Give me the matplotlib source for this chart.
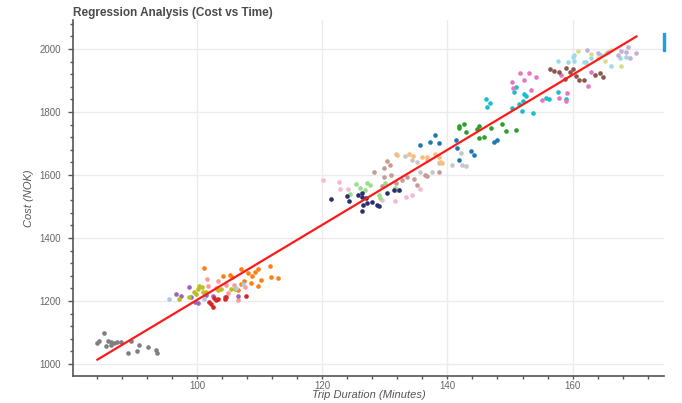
import numpy as np
import matplotlib.pyplot as plt
from matplotlib.patches import Rectangle
from matplotlib.ticker import MultipleLocator

plt.rcParams['font.family'] = ['Liberation Sans', 'DejaVu Sans']

# Trip duration (minutes) and cost (NOK) per group
gray_x = [85.1, 84.4, 84.1, 85.8, 86.2, 86.7, 87.2, 87.9, 89.4, 85.4, 86.2, 89.0, 90.5, 90.8, 92.1, 93.5, 93.6]
gray_y = [1097, 1073, 1066, 1074, 1071, 1066, 1070, 1071, 1073, 1057, 1060, 1034, 1042, 1059, 1053, 1044, 1036]

orange_x = [101.2, 107.0, 111.7, 104.2, 105.2, 105.6, 108.2, 109.3, 109.7, 108.8, 107.5, 108.7, 110.2, 111.9, 113.0, 109.8, 107.1, 106.5]
orange_y = [1304, 1301, 1311, 1279, 1283, 1277, 1288, 1293, 1301, 1279, 1265, 1258, 1267, 1275, 1272, 1248, 1254, 1235]

red_x = [102.0, 102.6, 102.3, 103.1, 103.4, 104.4, 104.7, 107.9, 102.8]
red_y = [1198, 1182, 1192, 1203, 1206, 1205, 1214, 1215, 1210]

salmon_x = [101.6, 103.3, 101.8, 104.7, 105.9, 107.6, 106.6, 105.0, 103.0]
salmon_y = [1270, 1265, 1249, 1251, 1251, 1243, 1202, 1226, 1240]

purple_x = [98.8, 96.7, 97.5, 99.1, 100.2, 101.5, 104.4, 106.6, 99.7, 102.5]
purple_y = [1245, 1223, 1215, 1212, 1195, 1219, 1214, 1216, 1197, 1216]

olive_x = [99.6, 100.8, 101.0, 97.2, 98.8, 103.9, 106.0, 100.2, 99.9, 101.5, 103.4, 105.5, 100.4]
olive_y = [1230, 1243, 1230, 1205, 1212, 1237, 1237, 1238, 1222, 1228, 1235, 1238, 1247]

lightblue_x = [95.5, 107.4, 101.2, 106.2]
lightblue_y = [1205, 1254, 1205, 1240]

navy_x = [121.4, 124.0, 124.3, 125.8, 126.4, 126.3, 127.0, 127.2, 128.0, 128.8, 126.3, 130.4, 131.4, 132.2, 126.6, 129.0]
navy_y = [1523, 1533, 1519, 1537, 1544, 1529, 1526, 1512, 1515, 1505, 1487, 1544, 1551, 1551, 1505, 1503]

lightpink_x = [120.2, 122.7, 122.9, 124.1, 129.6, 131.6, 133.4, 134.3, 131.8, 135.6]
lightpink_y = [1584, 1579, 1555, 1555, 1521, 1518, 1529, 1537, 1552, 1555]

lightgreen_x = [125.4, 127.2, 127.7, 126.1, 126.8, 129.0, 129.3, 130.1, 131.7, 132.2, 124.5]
lightgreen_y = [1572, 1576, 1567, 1558, 1552, 1537, 1526, 1576, 1558, 1552, 1540]

tan_x = [128.2, 129.8, 130.4, 130.9, 129.9, 131.0, 133.6, 132.8, 134.7, 135.2, 136.5, 136.8, 138.7, 129.6, 131.8]
tan_y = [1611, 1621, 1643, 1632, 1595, 1600, 1595, 1584, 1586, 1568, 1600, 1597, 1611, 1565, 1574]

silver_x = [131.8, 133.3, 134.4, 135.2, 135.7, 137.5, 140.8, 142.1, 142.4, 143.0, 138.7]
silver_y = [1667, 1660, 1648, 1642, 1608, 1611, 1632, 1669, 1632, 1627, 1637]

peach_x = [133.9, 134.5, 136.0, 136.8, 138.1, 138.7, 138.9, 139.2, 132.0, 136.8]
peach_y = [1667, 1659, 1656, 1658, 1667, 1656, 1642, 1637, 1664, 1648]

blue_x = [135.7, 137.3, 138.0, 138.7, 141.3, 141.6, 141.9, 143.7, 144.3, 147.5, 148.0]
blue_y = [1695, 1706, 1727, 1703, 1711, 1685, 1648, 1675, 1664, 1706, 1711]

green_x = [141.9, 142.6, 142.9, 141.9, 145.0, 144.8, 147.0, 148.8, 149.3, 150.9, 145.1, 145.9]
green_y = [1756, 1762, 1738, 1749, 1756, 1745, 1748, 1762, 1741, 1743, 1716, 1722]

cyan_x = [146.2, 146.8, 146.4, 150.7, 150.9, 152.3, 152.6, 151.4, 152.1, 150.3, 151.9, 153.6, 155.8, 156.3, 157.6, 158.9]
cyan_y = [1840, 1830, 1815, 1865, 1878, 1857, 1851, 1826, 1836, 1812, 1804, 1798, 1844, 1840, 1862, 1840]

pink_x = [151.6, 153.0, 154.2, 152.3, 150.3, 150.5, 153.3, 155.1, 157.9, 158.9, 159.1, 162.5, 163.0, 158.2]
pink_y = [1925, 1925, 1911, 1900, 1894, 1877, 1870, 1837, 1843, 1836, 1860, 1881, 1926, 1917]

brown_x = [156.4, 157.0, 157.8, 158.9, 159.6, 160.1, 158.8, 160.6, 161.1, 161.9, 163.5, 164.4, 164.9]
brown_y = [1935, 1931, 1928, 1939, 1927, 1935, 1904, 1913, 1902, 1901, 1917, 1923, 1910]

lightcyan_x = [157.7, 160.1, 160.3, 161.9, 163.0, 164.6, 166.2, 167.5, 168.6, 160.3, 159.3, 162.1]
lightcyan_y = [1961, 1974, 1963, 1958, 1971, 1981, 1946, 1971, 1974, 1981, 1958, 1958]

lavender_x = [162.3, 164.0, 165.7, 167.8, 168.8, 170.2, 167.3, 168.5, 169.1]
lavender_y = [1998, 1987, 1990, 1995, 2006, 1986, 1981, 1992, 1971]

khaki_x = [160.8, 163.0, 164.1, 165.1, 165.4, 166.2, 167.8]
khaki_y = [1995, 1983, 1970, 1962, 1986, 1998, 1947]

groups = [
    (gray_x, gray_y, '#7f7f7f'),
    (orange_x, orange_y, '#ff7f0e'),
    (salmon_x, salmon_y, '#ff9896'),
    (purple_x, purple_y, '#9467bd'),
    (olive_x, olive_y, '#bcbd22'),
    (red_x, red_y, '#d62728'),
    (lightblue_x, lightblue_y, '#aec7e8'),
    (lightpink_x, lightpink_y, '#f7b6d2'),
    (lightgreen_x, lightgreen_y, '#98df8a'),
    (tan_x, tan_y, '#c49c94'),
    (navy_x, navy_y, '#2a2f6e'),
    (silver_x, silver_y, '#c7c7c7'),
    (peach_x, peach_y, '#ffbb78'),
    (blue_x, blue_y, '#1f77b4'),
    (green_x, green_y, '#2ca02c'),
    (cyan_x, cyan_y, '#17becf'),
    (pink_x, pink_y, '#e377c2'),
    (brown_x, brown_y, '#8c564b'),
    (lightcyan_x, lightcyan_y, '#9edae5'),
    (khaki_x, khaki_y, '#dbdb8d'),
    (lavender_x, lavender_y, '#c5b0d5'),
]

fig = plt.figure(figsize=(6.82, 4.03), dpi=100)
ax = fig.add_axes([73 / 682, 1 - 376 / 403, 591 / 682, 356 / 403])

for gx, gy, col in groups:
    ax.scatter(gx, gy, s=11, color=col, linewidths=0, zorder=3)

# Linear regression over all points
all_x = np.concatenate([np.array(g[0]) for g in groups])
all_y = np.concatenate([np.array(g[1]) for g in groups])
slope, intercept = np.polyfit(all_x, all_y, 1)
line_x = np.array([all_x.min(), all_x.max()])
ax.plot(line_x, slope * line_x + intercept, color='#ff1a1a', linewidth=1.6, zorder=4)

ax.set_xlim(80.2, 174.6)
ax.set_ylim(962, 2092)
ax.xaxis.set_major_locator(MultipleLocator(20))
ax.xaxis.set_minor_locator(MultipleLocator(4))
ax.yaxis.set_major_locator(MultipleLocator(200))
ax.yaxis.set_minor_locator(MultipleLocator(40))

ax.grid(True, which='major', color='#ebebeb', linewidth=1)
ax.set_axisbelow(True)
for s in ['top', 'right']:
    ax.spines[s].set_visible(False)
for s in ['left', 'bottom']:
    ax.spines[s].set_color('#555555')
    ax.spines[s].set_linewidth(1.2)

ax.tick_params(which='major', direction='out', length=2.5, width=1, color='#555555',
               labelsize=7, labelcolor='#666666', pad=1)
ax.tick_params(which='minor', direction='out', length=2.5, width=1, color='#555555')
ax.tick_params(axis='y', which='major', length=3.5, pad=5)

ax.set_title('Regression Analysis (Cost vs Time)', loc='left', fontsize=8.5,
             fontweight='bold', color='#4a4a4a', pad=3)
ax.set_xlabel('Trip Duration (Minutes)', fontsize=8, style='italic', color='#555555')
ax.set_ylabel('Cost (NOK)', fontsize=8, style='italic', color='#555555')
ax.xaxis.set_label_coords(0.5, -0.040)
ax.yaxis.set_label_coords(-0.066, 0.5)

# small blue marker at the top right edge
fig.patches.append(Rectangle((663 / 682, 1 - 51 / 403), 2 / 682, 18 / 403,
                             transform=fig.transFigure, color='#1ea0e6'))

plt.savefig('out.png', dpi=100)
